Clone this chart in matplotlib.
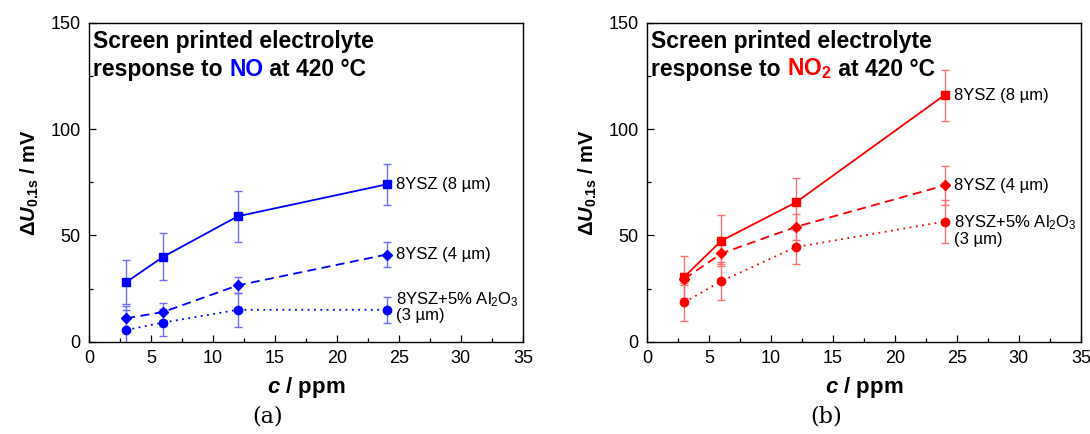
import numpy as np
import matplotlib
matplotlib.use("Agg")
import matplotlib.pyplot as plt

plt.rcParams["font.family"] = ["Liberation Sans", "DejaVu Sans"]
plt.rcParams["mathtext.fontset"] = "custom"
plt.rcParams["mathtext.rm"] = "Liberation Sans"
plt.rcParams["mathtext.it"] = "Liberation Sans:italic"
plt.rcParams["mathtext.bf"] = "Liberation Sans:bold"
plt.rcParams["mathtext.bfit"] = "Liberation Sans:italic:bold"

# concentrations (ppm)
conc = [3, 6, 12, 24]

# (a) NO response, mV
no_8um = [28, 40, 59, 74]
no_8um_err = [10.5, 11, 12, 9.5]
no_4um = [11, 14, 26.5, 41]
no_4um_err = [6, 4, 3.7, 6]
no_al = [5.5, 9, 15, 15]
no_al_err = [9.5, 6.5, 8, 6]

# (b) NO2 response, mV
no2_8um = [30.5, 47.5, 65.5, 116]
no2_8um_err = [10, 12, 11.5, 12]
no2_4um = [29.5, 41.5, 54, 73.5]
no2_4um_err = [3, 5, 6, 9]
no2_al = [18.5, 28.5, 44.5, 56.5]
no2_al_err = [9, 9, 8, 10]

labels = ["8YSZ (8 µm)", "8YSZ (4 µm)", "8YSZ+5% Al$_2$O$_3$\n(3 µm)"]

TITLE_FS = 16.5
LABEL_FS = 12


def draw_series(ax, y, err, colour, ecolour, marker, ms, ls):
    ax.errorbar(conc, y, yerr=err, color=colour, ecolor=ecolour, elinewidth=1.0,
                capsize=3, capthick=1.0, marker=marker, ms=ms, ls=ls, lw=1.3,
                zorder=3)


def style_axes(ax):
    ax.set_xlim(0, 35)
    ax.set_ylim(0, 150)
    ax.set_xticks(np.arange(0, 36, 5))
    ax.set_xticks(np.arange(2.5, 35, 5), minor=True)
    ax.set_yticks([0, 50, 100, 150])
    ax.set_yticks([25, 75, 125], minor=True)
    ax.tick_params(which="both", direction="in", labelsize=13, width=0.9, pad=6)
    ax.tick_params(which="major", length=5)
    ax.tick_params(which="minor", length=3)
    for s in ax.spines.values():
        s.set_linewidth(1.0)
    ax.set_xlabel(r"$\mathbfit{c}$ / ppm", fontsize=16, fontweight="bold", labelpad=6)
    ax.set_ylabel(r"$\mathbf{\Delta}\mathbfit{U}_{\mathbf{0.1s}}$ / mV", fontsize=14.5,
                  fontweight="bold", labelpad=7)


def title(ax, gas, colour):
    ax.text(0.01, 0.9225, "Screen printed electrolyte", transform=ax.transAxes,
            fontsize=TITLE_FS, fontweight="bold", va="baseline", ha="left")
    t2 = ax.text(0.01, 0.8337, "response to ", transform=ax.transAxes,
                 fontsize=TITLE_FS, fontweight="bold", va="baseline", ha="left")
    t3 = ax.annotate(gas, xy=(1, 0), xycoords=t2, va="bottom", ha="left",
                     fontsize=TITLE_FS, fontweight="bold", color=colour)
    ax.annotate(" at 420 °C", xy=(1, 0), xycoords=t3, va="bottom", ha="left",
                fontsize=TITLE_FS, fontweight="bold")


fig = plt.figure(figsize=(10.9, 4.34), dpi=100)
ax_a = fig.add_axes([0.0817, 0.2127, 0.398, 0.7346])
ax_b = fig.add_axes([0.5936, 0.2127, 0.398, 0.7346])

blue, blue_e = "#0000ff", "#6f6fff"
red, red_e = "#ff0000", "#ff7070"

draw_series(ax_a, no_8um, no_8um_err, blue, blue_e, "s", 5.5, "-")
draw_series(ax_a, no_4um, no_4um_err, blue, blue_e, "D", 5, (0, (5, 3)))
draw_series(ax_a, no_al, no_al_err, blue, blue_e, "o", 6, (0, (1, 2.5)))

draw_series(ax_b, no2_8um, no2_8um_err, red, red_e, "s", 5.5, "-")
draw_series(ax_b, no2_4um, no2_4um_err, red, red_e, "D", 5, (0, (5, 3)))
draw_series(ax_b, no2_al, no2_al_err, red, red_e, "o", 6, (0, (1, 2.5)))

for ax in (ax_a, ax_b):
    style_axes(ax)

# series labels next to the last point
lx = conc[-1] + 0.8
ax_a.text(lx, no_8um[-1], labels[0], fontsize=LABEL_FS, va="center")
ax_a.text(lx, no_4um[-1], labels[1], fontsize=LABEL_FS, va="center")
ax_a.text(lx, no_al[-1] + 1.5, labels[2], fontsize=LABEL_FS, va="center", linespacing=0.95)
ax_b.text(lx, no2_8um[-1], labels[0], fontsize=LABEL_FS, va="center")
ax_b.text(lx, no2_4um[-1], labels[1], fontsize=LABEL_FS, va="center")
ax_b.text(lx, no2_al[-1] - 4, labels[2], fontsize=LABEL_FS, va="center", linespacing=0.95)

title(ax_a, "NO", blue)
title(ax_b, r"NO$_\mathbf{2}$", red)

fig.text(268 / 1090, 1 - 417 / 434, "(a)", fontsize=16, family="DejaVu Serif",
         ha="center", va="center")
fig.text(826 / 1090, 1 - 417 / 434, "(b)", fontsize=16, family="DejaVu Serif",
         ha="center", va="center")

fig.savefig("out.png", dpi=100)
